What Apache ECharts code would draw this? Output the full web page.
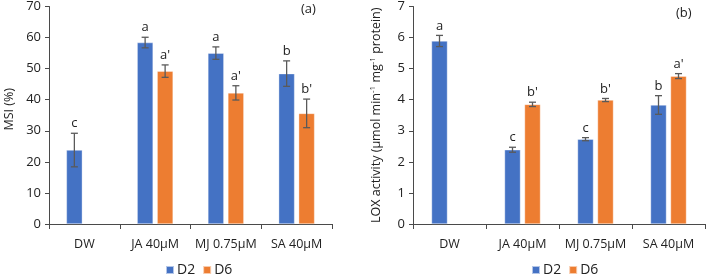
<!DOCTYPE html>
<html>
<head>
<meta charset="utf-8">
<script src="https://cdn.jsdelivr.net/npm/echarts@6/dist/echarts.min.js"></script>
<style>
    html, body {margin: 0; padding: 0; background: #fff;}
    #chart {width: 706px; height: 274px;}
</style>
</head>
<body>
<div id="chart"></div>
<script>
// 数据
const categories = ['DW', 'JA 40µM', 'MJ 0.75µM', 'SA 40µM'];
const msiD2 = [23.8, 58.4, 55.0, 48.4];
const msiD2Err = [5.4, 1.7, 2.0, 4.1];
const msiD2Letters = ['c', 'a', 'a', 'b'];
const msiD6 = [null, 49.2, 42.2, 35.6];
const msiD6Err = [null, 2.0, 2.3, 4.6];
const msiD6Letters = ['', "a'", "a'", "b'"];
const loxD2 = [5.89, 2.39, 2.73, 3.83];
const loxD2Err = [0.18, 0.08, 0.05, 0.30];
const loxD2Letters = ['a', 'c', 'c', 'b'];
const loxD6 = [null, 3.85, 3.99, 4.76];
const loxD6Err = [null, 0.07, 0.05, 0.08];
const loxD6Letters = ['', "b'", "b'", "a'"];

const blue = '#4472C4', orange = '#ED7D31', errColor = '#5a5a5a', axisColor = '#4a4a4a';
const font = '"Open Sans", "Liberation Sans", sans-serif';

//误差线 + 显著性字母
function errSeries(axisIdx, vals, errs, letters, shift) {
    const data = [];
    vals.forEach((v, i) => {
        if (v == null) return;
        data.push([i, v - errs[i], v + errs[i]]);
    });
    return {
        type: 'custom',
        xAxisIndex: axisIdx,
        yAxisIndex: axisIdx,
        z: 5,
        silent: true,
        data: data,
        renderItem: function (params, api) {
            const i = api.value(0);
            const top = api.coord([i, api.value(2)]);
            const bot = api.coord([i, api.value(1)]);
            const x = top[0] + shift, cap = 3.5;
            const ls = {stroke: errColor, lineWidth: 1.3};
            return {
                type: 'group',
                children: [
                    {type: 'line', shape: {x1: x, y1: top[1], x2: x, y2: bot[1]}, style: ls},
                    {type: 'line', shape: {x1: x - cap, y1: top[1], x2: x + cap, y2: top[1]}, style: ls},
                    {type: 'line', shape: {x1: x - cap, y1: bot[1], x2: x + cap, y2: bot[1]}, style: ls},
                    {
                        type: 'text', x: x, y: top[1] - 3,
                        style: {
                            text: letters[i], align: 'center', verticalAlign: 'bottom',
                            fontFamily: font, fontSize: 13, fill: '#222'
                        }
                    }
                ]
            };
        }
    };
}

function xAxis(gridIdx) {
    return {
        type: 'category',
        gridIndex: gridIdx,
        data: categories,
        axisLine: {lineStyle: {color: axisColor}},
        axisTick: {show: true, alignWithLabel: false, length: 5, lineStyle: {color: axisColor}},
        axisLabel: {color: '#222', fontFamily: font, fontSize: 12.5, margin: 14, interval: 0}
    };
}

function yAxis(gridIdx, max, interval, name, nameGap, namePad) {
    return {
        type: 'value',
        gridIndex: gridIdx,
        min: 0, max: max, interval: interval,
        name: name,
        nameLocation: 'middle',
        nameGap: nameGap,
        nameTextStyle: {
            color: '#222', fontFamily: font, fontSize: 12.5, padding: namePad,
            rich: {
                t: {color: '#222', fontFamily: font, fontSize: 12.5},
                sup: {color: '#222', fontFamily: font, fontSize: 8, verticalAlign: 'top', padding: [0, 0, 6, 0]}
            }
        },
        splitLine: {show: false},
        axisLine: {show: true, lineStyle: {color: axisColor}},
        axisTick: {show: true, length: 4, lineStyle: {color: axisColor}},
        axisLabel: {color: '#222', fontFamily: font, fontSize: 13, margin: 8}
    };
}

function bar(name, axisIdx, vals, color) {
    return {
        type: 'bar',
        name: name,
        xAxisIndex: axisIdx,
        yAxisIndex: axisIdx,
        data: vals.map(v => v == null ? '-' : v),
        barWidth: 16,
        barGap: '25%',
        itemStyle: {color: color, borderColor: 'rgba(255,255,255,0.6)', borderWidth: 0.6},
        silent: true
    };
}

function legend(left) {
    return {
        data: ['D2', 'D6'], left: left, top: 258, icon: 'rect',
        itemWidth: 8, itemHeight: 8, itemGap: 7,
        textStyle: {color: '#222', fontFamily: font, fontSize: 14, padding: [0, 0, 0, -2]}
    };
}

let chart = echarts.init(document.getElementById('chart'));
chart.setOption({
    animation: false,
    grid: [
        {left: 49, top: 5, width: 283, height: 219},
        {left: 413, top: 5, width: 292, height: 219}
    ],
    legend: [legend(160), legend(526)],
    xAxis: [xAxis(0), xAxis(1)],
    yAxis: [
        yAxis(0, 70, 10, 'MSI (%)', 33, [0, 0, 0, 12]),
        yAxis(1, 7, 1, '{t|LOX activity (µmol min}{sup|-1}{t| mg}{sup|-1}{t| protein)}', 30, [0, 0, 0, 0])
    ],
    graphic: [
        {type: 'text', left: 301, top: 3, style: {text: '(a)', fontFamily: font, fontSize: 13, fill: '#222'}},
        {type: 'text', left: 676, top: 7, style: {text: '(b)', fontFamily: font, fontSize: 13, fill: '#222'}}
    ],
    series: [
        bar('D2', 0, msiD2, blue),
        bar('D6', 0, msiD6, orange),
        bar('D2', 1, loxD2, blue),
        bar('D6', 1, loxD6, orange),
        errSeries(0, msiD2, msiD2Err, msiD2Letters, -10),
        errSeries(0, msiD6, msiD6Err, msiD6Letters, 10),
        errSeries(1, loxD2, loxD2Err, loxD2Letters, -10),
        errSeries(1, loxD6, loxD6Err, loxD6Letters, 10)
    ]
});
</script>
</body>
</html>
